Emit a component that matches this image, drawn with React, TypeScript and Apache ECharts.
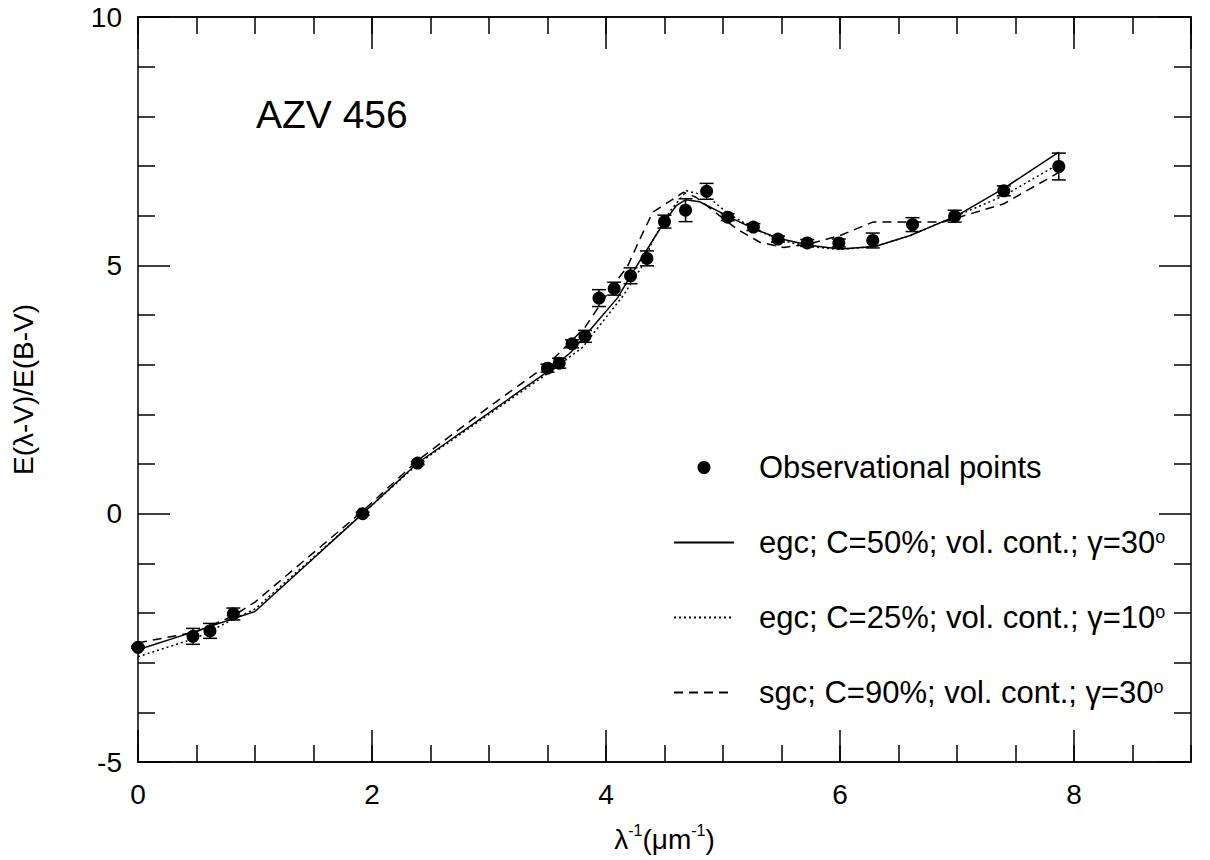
import React, { useEffect, useRef } from 'react';
import * as echarts from 'echarts';

// Observational points (x = 1/lambda, y = E(l-V)/E(B-V), err = half error bar)
const obsX = [0, 0.47, 0.615, 0.815, 1.92, 2.39, 3.5, 3.6, 3.71, 3.82, 3.94, 4.07, 4.21, 4.35, 4.5, 4.68, 4.86, 5.04, 5.26, 5.47, 5.72, 5.99, 6.28, 6.62, 6.98, 7.4, 7.87];
const obsY = [-2.69, -2.47, -2.36, -2.02, 0.0, 1.02, 2.93, 3.03, 3.42, 3.57, 4.34, 4.53, 4.79, 5.14, 5.88, 6.11, 6.49, 5.97, 5.77, 5.53, 5.45, 5.45, 5.5, 5.82, 5.99, 6.5, 6.99];
const obsErr = [0.02, 0.16, 0.15, 0.12, 0.03, 0.03, 0.08, 0.1, 0.08, 0.12, 0.17, 0.13, 0.16, 0.15, 0.13, 0.23, 0.16, 0.07, 0.07, 0.06, 0.07, 0.08, 0.15, 0.14, 0.12, 0.1, 0.27];

// Model: egc; C=50%; vol. cont.; gamma=30 (solid)
const egc50X = [0, 0.5, 1.0, 1.92, 2.39, 3.0, 3.5, 3.7, 3.9, 4.1, 4.21, 4.5, 4.6, 4.68, 4.8, 4.95, 5.1, 5.3, 5.5, 5.75, 6.0, 6.3, 6.6, 7.0, 7.4, 7.87];
const egc50Y = [-2.74, -2.36, -1.97, 0.0, 1.02, 2.03, 2.86, 3.25, 3.8, 4.35, 4.79, 5.88, 6.2, 6.32, 6.28, 6.1, 5.92, 5.7, 5.53, 5.4, 5.33, 5.38, 5.6, 6.0, 6.55, 7.28];

// Model: egc; C=25%; vol. cont.; gamma=10 (dotted)
const egc25X = [0, 0.5, 0.82, 1.0, 1.92, 2.39, 3.0, 3.5, 3.8, 4.0, 4.15, 4.3, 4.4, 4.55, 4.69, 4.86, 5.04, 5.26, 5.47, 5.72, 6.0, 6.3, 6.6, 6.98, 7.4, 7.87];
const egc25Y = [-2.88, -2.5, -2.12, -1.92, 0.0, 1.0, 2.0, 2.82, 3.35, 3.95, 4.4, 4.95, 5.5, 6.1, 6.5, 6.4, 6.05, 5.75, 5.52, 5.38, 5.32, 5.38, 5.6, 5.98, 6.4, 7.04];

// Model: sgc; C=90%; vol. cont.; gamma=30 (dashed)
const sgc90X = [0, 0.5, 0.82, 1.0, 1.92, 2.39, 3.0, 3.5, 3.82, 4.06, 4.18, 4.29, 4.4, 4.55, 4.66, 4.77, 4.97, 5.12, 5.32, 5.52, 5.72, 6.0, 6.28, 6.88, 7.4, 7.87];
const sgc90Y = [-2.6, -2.38, -2.05, -1.78, 0.05, 1.07, 2.15, 3.0, 3.75, 4.6, 4.96, 5.53, 6.07, 6.3, 6.47, 6.37, 6.0, 5.73, 5.46, 5.36, 5.42, 5.6, 5.87, 5.87, 6.24, 6.87];

const xTickLabels = ['0', '2', '4', '6', '8'];
const yTickLabels = ['-5', '0', '5', '10'];

const NAME_OBS = 'Observational points';
const NAME_50 = 'egc; C=50%; vol. cont.; γ=30°';
const NAME_25 = 'egc; C=25%; vol. cont.; γ=10°';
const NAME_90 = 'sgc; C=90%; vol. cont.; γ=30°';
const legendRich: Record<string, string> = {
  [NAME_OBS]: '{t|Observational points}',
  [NAME_50]: '{t|egc; C=50%; vol. cont.; γ=30}{s|o}',
  [NAME_25]: '{t|egc; C=25%; vol. cont.; γ=10}{s|o}',
  [NAME_90]: '{t|sgc; C=90%; vol. cont.; γ=30}{s|o}',
};

const FONT = "'Liberation Sans', Arial, Helvetica, sans-serif";

export default function App() {
  const ref = useRef<HTMLDivElement>(null);
  useEffect(() => {
    const chart = echarts.init(ref.current!, null, { renderer: 'svg' });
    const black = '#000';
    const lineW = 1.5;
    const axisLine = { show: true, onZero: false, lineStyle: { color: black, width: lineW } };
    const xMinor = (position: string) => ({
      type: 'value', position, min: 0, max: 9, interval: 0.5,
      axisLine, splitLine: { show: false },
      axisTick: { show: true, inside: true, length: 17, lineStyle: { color: black, width: lineW } },
      axisLabel: { show: false },
    });
    const xMajor = (position: string, labels: boolean) => ({
      type: 'value', position, min: 0, max: 9, interval: 2,
      axisLine, splitLine: { show: false },
      axisTick: { show: true, inside: true, length: 32, lineStyle: { color: black, width: lineW } },
      axisLabel: labels
        ? {
            show: true, color: black, fontSize: 28, fontFamily: FONT, margin: 18, showMaxLabel: false,
            formatter: (v: number) => (xTickLabels.includes(String(v)) ? String(v) : ''),
          }
        : { show: false },
      ...(labels
        ? {
            name: '{a|λ}{s|-1}{a|(μm}{s|-1}{a|)}',
            nameLocation: 'middle',
            nameGap: 60,
            nameTextStyle: {
              color: black,
              rich: {
                a: { fontSize: 28, fontFamily: FONT, color: black, lineHeight: 34 },
                s: { fontSize: 16, fontFamily: FONT, color: black, lineHeight: 14, verticalAlign: 'top' },
              },
            },
          }
        : {}),
    });
    const yAxis = (position: string, labels: boolean) => ({
      type: 'value', position, min: -5, max: 10, interval: 5,
      axisLine, splitLine: { show: false },
      axisTick: { show: true, inside: true, length: 32, lineStyle: { color: black, width: lineW } },
      minorTick: { show: true, splitNumber: 5, length: 17, lineStyle: { color: black, width: lineW } },
      minorSplitLine: { show: false },
      axisLabel: labels
        ? {
            show: true, color: black, fontSize: 28, fontFamily: FONT, margin: 16,
            formatter: (v: number) => (yTickLabels.includes(String(v)) ? String(v) : ''),
          }
        : { show: false },
      ...(labels
        ? {
            name: 'E(λ-V)/E(B-V)',
            nameLocation: 'middle',
            nameGap: 101,
            nameTextStyle: { color: black, fontSize: 28, fontFamily: FONT },
          }
        : {}),
    });

    const hiddenSymbol = { opacity: 0 };
    const option: any = {
      animation: false,
      backgroundColor: '#fff',
      textStyle: { fontFamily: FONT },
      title: {
        text: 'AZV 456', left: 256, top: 95, padding: 0,
        textStyle: { fontSize: 39, fontWeight: 'normal', color: black, fontFamily: FONT },
      },
      grid: { left: 138, right: 19, top: 17, bottom: 98, containLabel: false },
      xAxis: [xMinor('bottom'), xMajor('bottom', true), xMinor('top'), xMajor('top', false)],
      yAxis: [yAxis('left', true), yAxis('right', false)],
      legend: {
        orient: 'vertical', left: 668, top: 447, itemWidth: 60, itemHeight: 13, itemGap: 44,
        data: [
          { name: NAME_OBS },
          { name: NAME_50, itemStyle: hiddenSymbol },
          { name: NAME_25, itemStyle: hiddenSymbol },
          { name: NAME_90, itemStyle: hiddenSymbol },
        ],
        formatter: (name: string) => legendRich[name],
        textStyle: {
          color: black, padding: [0, 0, 0, 20],
          rich: {
            t: { fontSize: 31, fontFamily: FONT, color: black, lineHeight: 30 },
            s: { fontSize: 18, fontFamily: FONT, color: black, lineHeight: 6, verticalAlign: 'top' },
          },
        },
      },
      series: [
        {
          name: NAME_50, type: 'line', xAxisIndex: 0, yAxisIndex: 0, symbol: 'none', showSymbol: false,
          data: egc50X.map((x, i) => [x, egc50Y[i]]),
          lineStyle: { color: black, width: lineW, type: 'solid' }, itemStyle: { color: black },
        },
        {
          name: NAME_25, type: 'line', xAxisIndex: 0, yAxisIndex: 0, symbol: 'none', showSymbol: false,
          data: egc25X.map((x, i) => [x, egc25Y[i]]),
          lineStyle: { color: black, width: lineW, type: [2, 3] }, itemStyle: { color: black },
        },
        {
          name: NAME_90, type: 'line', xAxisIndex: 0, yAxisIndex: 0, symbol: 'none', showSymbol: false,
          data: sgc90X.map((x, i) => [x, sgc90Y[i]]),
          lineStyle: { color: black, width: lineW, type: [9, 6] }, itemStyle: { color: black },
        },
        {
          name: 'error bars', type: 'custom', xAxisIndex: 0, yAxisIndex: 0,
          encode: { x: 0, y: 1 },
          data: obsX.map((x, i) => [x, obsY[i], obsErr[i]]),
          renderItem: (params: any, api: any) => {
            const x = api.value(0);
            const y = api.value(1);
            const e = api.value(2);
            const top = api.coord([x, y + e]);
            const bot = api.coord([x, y - e]);
            const w = 7;
            const style = { stroke: black, lineWidth: lineW, fill: null };
            return {
              type: 'group',
              children: [
                { type: 'line', shape: { x1: top[0], y1: top[1], x2: bot[0], y2: bot[1] }, style },
                { type: 'line', shape: { x1: top[0] - w, y1: top[1], x2: top[0] + w, y2: top[1] }, style },
                { type: 'line', shape: { x1: bot[0] - w, y1: bot[1], x2: bot[0] + w, y2: bot[1] }, style },
              ],
            };
          },
        },
        {
          name: NAME_OBS, type: 'scatter', xAxisIndex: 0, yAxisIndex: 0, symbol: 'circle', symbolSize: 13,
          data: obsX.map((x, i) => [x, obsY[i]]),
          itemStyle: { color: black, opacity: 1 },
        },
      ],
    };
    chart.setOption(option);
    return () => chart.dispose();
  }, []);
  return <div ref={ref} style={{ position: 'fixed', left: 0, top: 0, width: 1210, height: 860 }} />;
}
